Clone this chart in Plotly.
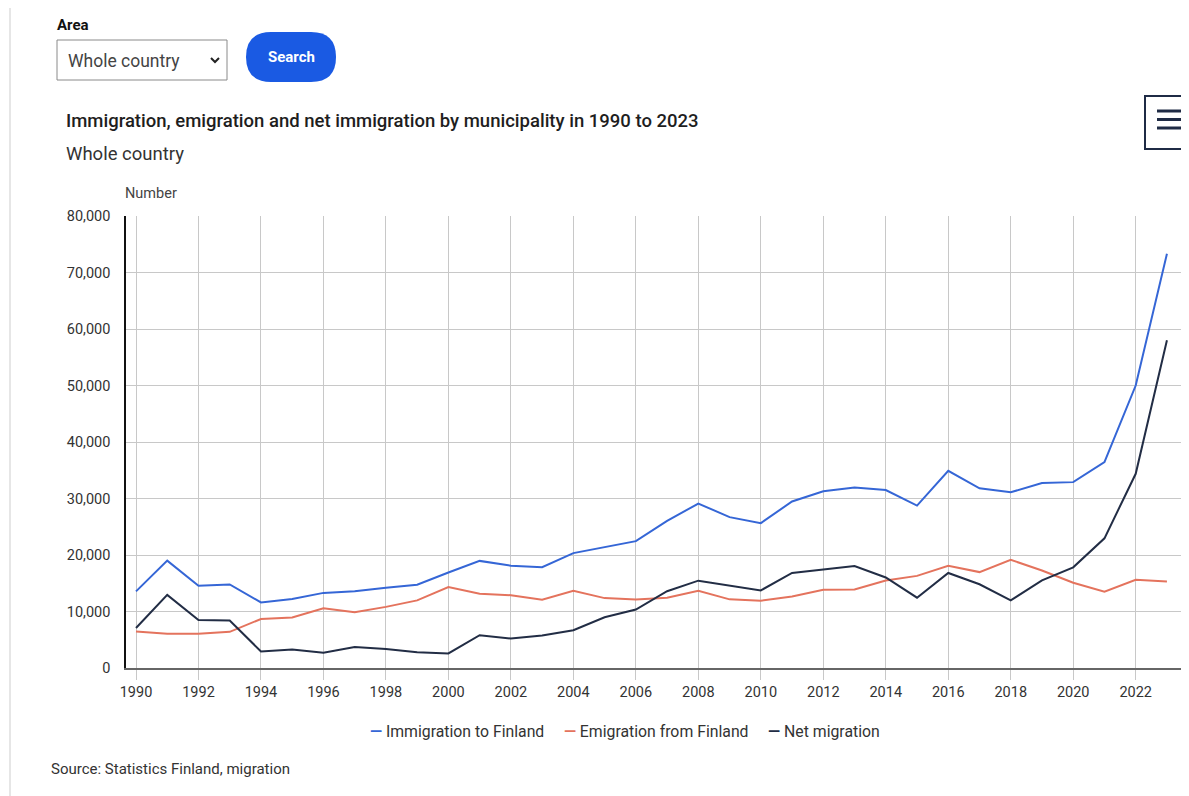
import plotly.graph_objects as go

years = list(range(1990, 2024))
immigration = [13558, 19001, 14554, 14795, 11611, 12222, 13294, 13564, 14192, 14744,
               16895, 18955, 18113, 17838, 20333, 21355, 22451, 26029, 29114, 26699,
               25636, 29481, 31278, 31941, 31507, 28746, 34905, 31797, 31106, 32758,
               32898, 36442, 49998, 73300]
emigration = [6477, 6055, 6070, 6405, 8672, 8957, 10587, 9854, 10817, 11966,
              14311, 13153, 12891, 12083, 13656, 12369, 12107, 12443, 13657, 12151,
              11905, 12660, 13845, 13893, 15486, 16305, 18082, 16973, 19141, 17263,
              15084, 13490, 15624, 15300]
net_migration = [7081, 12946, 8484, 8390, 2939, 3265, 2707, 3710, 3375, 2778,
                 2584, 5802, 5222, 5755, 6677, 8986, 10344, 13586, 15457, 14548,
                 13731, 16821, 17433, 18048, 16021, 12441, 16823, 14824, 11965, 15495,
                 17814, 22952, 34374, 58000]
series_names = ["Immigration to Finland", "Emigration from Finland", "Net migration"]
series_colors = ["#3566d6", "#e4735d", "#222d45"]
x_ticks = list(range(1990, 2024, 2))
y_ticks = list(range(0, 80001, 10000))

OFF = 8  # page body margin
SW, SH = 1189, 796  # screen size
W, H = SW - OFF, SH - OFF
L, R, T, B = 126 - OFF, 8, 216 - OFF, 128
PW, PH = W - L - R, H - T - B
FONT = "Roboto, sans-serif"


def px(x):
    return (x - OFF - L) / PW


def py(y):
    return (H - B - (y - OFF)) / PH


fig = go.Figure()
for name, vals, col in zip(series_names, [immigration, emigration, net_migration], series_colors):
    fig.add_trace(go.Scatter(x=years, y=vals, mode="lines", name=name,
                             line=dict(color=col, width=2), showlegend=False))

fig.update_layout(
    width=W, height=H, margin=dict(l=L, r=R, t=T, b=B, autoexpand=False),
    paper_bgcolor="white", plot_bgcolor="white",
    font=dict(family=FONT, color="#333", size=15),
    xaxis=dict(range=[1989.68, 2023.45], tickvals=x_ticks, ticktext=[str(v) for v in x_ticks],
               showgrid=True, gridcolor="#c8c8c8", gridwidth=1,
               showline=True, linecolor="#666", linewidth=2,
               ticks="outside", ticklen=10, tickcolor="#c8c8c8",
               tickfont=dict(size=14.5, color="#333"), zeroline=False),
    yaxis=dict(range=[0, 80000], tickvals=y_ticks, ticktext=[f"{v:,}" for v in y_ticks],
               showgrid=True, gridcolor="#c8c8c8", gridwidth=1,
               showline=True, linecolor="#111", linewidth=1.5,
               ticks="", ticklabelstandoff=11,
               tickfont=dict(size=14.5, color="#333"), zeroline=False),
)

shapes = []
# left page border
shapes.append(dict(type="line", x0=px(10), x1=px(10), y0=py(8), y1=py(796),
                   line=dict(color="#e6e6e6", width=2)))
# dropdown box
shapes.append(dict(type="rect", x0=px(57), x1=px(227), y0=py(80), y1=py(40),
                   line=dict(color="#8a8a8a", width=1), fillcolor="white"))
# chevron
shapes.append(dict(type="path",
                   path=f"M {px(211)},{py(58)} L {px(215)},{py(62)} L {px(219)},{py(58)}",
                   line=dict(color="#222", width=2)))
# search button (pill)
bx0, bx1, by0, by1, rr = 246, 336, 32, 82, 25
path = (f"M {px(bx0+rr)},{py(by0)} L {px(bx1-rr)},{py(by0)} "
        f"Q {px(bx1)},{py(by0)} {px(bx1)},{py((by0+by1)/2)} "
        f"Q {px(bx1)},{py(by1)} {px(bx1-rr)},{py(by1)} "
        f"L {px(bx0+rr)},{py(by1)} "
        f"Q {px(bx0)},{py(by1)} {px(bx0)},{py((by0+by1)/2)} "
        f"Q {px(bx0)},{py(by0)} {px(bx0+rr)},{py(by0)} Z")
shapes.append(dict(type="path", path=path, fillcolor="#1a5ae3", line=dict(width=0)))
# hamburger box (open on the right, runs off the page)
shapes.append(dict(type="path",
                   path=f"M {px(1200)},{py(96)} L {px(1145)},{py(96)} L {px(1145)},{py(149)} L {px(1200)},{py(149)}",
                   line=dict(color="#1f2b45", width=2)))
for yy in [111, 119.5, 128]:
    shapes.append(dict(type="line", x0=px(1157), x1=px(1182), y0=py(yy), y1=py(yy),
                       line=dict(color="#1f2b45", width=3)))
for s in shapes:
    s.update(xref="paper", yref="paper", layer="above")
fig.update_layout(shapes=shapes)

ann = []


def text(x, y, t, size, color="#333", xanchor="left", bold=False, weight=None):
    f = dict(size=size, color=color, family=FONT)
    if weight:
        f["weight"] = weight
    ann.append(dict(x=px(x), y=py(y), xref="paper", yref="paper", text=(f"<b>{t}</b>" if bold else t),
                    showarrow=False, xanchor=xanchor, yanchor="middle", font=f))


text(55, 25, "Area", 15, "#111", bold=True)
text(66, 61, "Whole country", 17.5, "#444")
text(291, 57, "Search", 15, "white", xanchor="center", bold=True)
text(64, 121, "Immigration, emigration and net immigration by municipality in 1990 to 2023", 18.5,
     "#1e1e1e", weight=500)
text(64, 154, "Whole country", 18.5, "#333")
text(123, 193, "Number", 14.5, "#444")
text(49, 769, "Source: Statistics Finland, migration", 15, "#333")

legend_html = "&nbsp;&nbsp;&nbsp;&nbsp;&nbsp;".join(
    f"<span style='color:{c}'><b>—</b></span> {n}" for n, c in zip(series_names, series_colors))
ann.append(dict(x=px(625), y=py(731), xref="paper", yref="paper", text=legend_html,
                showarrow=False, xanchor="center", yanchor="middle",
                font=dict(size=15.8, color="#333", family=FONT)))
fig.update_layout(annotations=ann)

fig.write_html("out.html")
